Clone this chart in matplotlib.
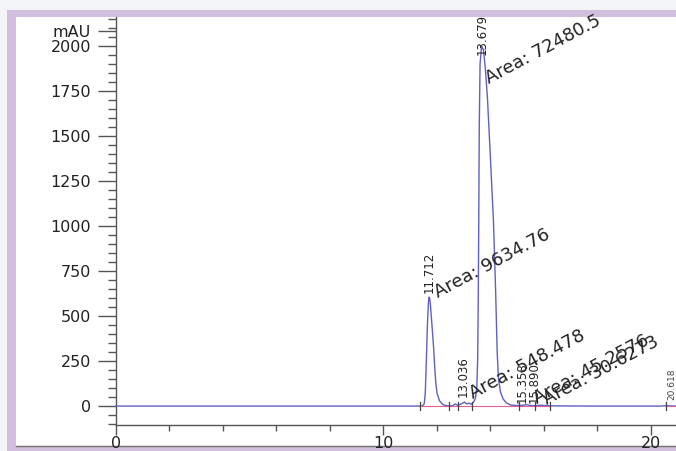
import matplotlib
matplotlib.use("Agg")
import matplotlib.pyplot as plt
from matplotlib.patches import Rectangle
from matplotlib.lines import Line2D
from matplotlib.ticker import MultipleLocator, FixedLocator

# ---------------- data ----------------
time_min = [0.0, 5.0, 11.0, 11.45, 11.53, 11.57, 11.61, 11.65, 11.69, 11.712, 11.74,
            11.77, 11.81, 11.85, 11.88, 11.93, 11.97, 12.01, 12.1, 12.2, 12.3, 12.45,
            12.6, 12.7, 12.8, 12.95, 13.036, 13.12, 13.2, 13.3, 13.38, 13.45, 13.5,
            13.53, 13.55, 13.57, 13.59, 13.62, 13.679, 13.75, 13.82, 13.9, 14.0, 14.12,
            14.2, 14.26, 14.31, 14.38, 14.48, 14.6, 14.76, 15.0, 15.2, 15.358, 15.5,
            15.7, 15.89, 16.1, 16.5, 18.0, 20.4, 20.56, 20.7, 20.95]
mau = [0, 0, 0, 0, 12, 72, 250, 450, 580, 605, 595,
       550, 470, 390, 328, 200, 120, 72, 30, 12, 4, 1,
       2, 12, 3, 15, 22, 12, 16, 10, 22, 45, 110,
       260, 550, 1000, 1550, 1900, 2000, 1975, 1870, 1700, 1400, 1030,
       650, 300, 150, 80, 40, 18, 6, 3, 4, 8, 3,
       2, 5, 2, 1, 0, 0, 2, 1, 0]

peak_times = ["11.712", "13.679", "13.036", "15.358", "15.890", "20.618"]
peak_areas = ["Area: 9634.76", "Area: 72480.5", "Area: 548.478",
              "Area: 45.2576", "Area: 30.6273"]
boundary_times = [11.39, 12.47, 12.78, 13.33, 15.09, 15.69, 16.25, 20.56]
y_major = [0, 250, 500, 750, 1000, 1250, 1500, 1750, 2000]
y_labels = ["0", "250", "500", "750", "1000", "1250", "1500", "1750", "2000"]
x_major = [0, 10, 20]

# ---------------- layout helpers ----------------
W, H = 676, 451
fig = plt.figure(figsize=(W / 100, H / 100), dpi=100, facecolor="#f3f5f8")

def fx(px):
    return px / W

def fy(py):
    return (H - py) / H

fig.patches.append(Rectangle((fx(7), fy(451)), 1 - fx(7), fy(10) - fy(451),
                             transform=fig.transFigure, facecolor="#d2bfdd",
                             edgecolor="none", zorder=-3))
fig.patches.append(Rectangle((fx(16), fy(446)), 1 - fx(16), fy(17) - fy(446),
                             transform=fig.transFigure, facecolor="white",
                             edgecolor="none", zorder=-2))
fig.lines.append(Line2D([fx(16), 1], [fy(446), fy(446)], transform=fig.transFigure,
                        color="#707070", lw=1.0, zorder=-1))

ax = fig.add_axes([fx(116), fy(425), fx(676) - fx(116), fy(17) - fy(425)])
ax.set_zorder(5)
ax.set_facecolor("none")
ax.set_xlim(0, 20.95)
ax.set_ylim(-105, 2160)

for s in ("top", "right"):
    ax.spines[s].set_visible(False)
for s in ("left", "bottom"):
    ax.spines[s].set_color("#555555")
    ax.spines[s].set_linewidth(1.0)

# trace
ax.plot(time_min, mau, color="#6060c2", lw=1.0, zorder=3, clip_on=False)
# baselines of integrated peaks
ax.plot([boundary_times[0], boundary_times[6]], [0, 0], color="#e0609a", lw=0.8, zorder=4)
ax.plot([boundary_times[7], 20.95], [0, 0], color="#e0609a", lw=0.8, zorder=4)
# peak start/end markers
for t in boundary_times:
    ax.plot([t, t], [-22, 22], color="#444444", lw=0.9, zorder=5)

# ticks
ax.yaxis.set_major_locator(FixedLocator(y_major + [2085]))
ax.set_yticklabels(y_labels + ["mAU"])
ax.yaxis.set_minor_locator(MultipleLocator(50))
ax.xaxis.set_major_locator(FixedLocator(x_major))
ax.xaxis.set_minor_locator(MultipleLocator(2))
ax.tick_params(axis="y", which="major", direction="out", length=13, width=1,
               color="#555555", pad=5, labelsize=11.5, labelcolor="#222222")
ax.tick_params(axis="y", which="minor", direction="out", length=6, width=1,
               color="#555555")
ax.tick_params(axis="x", which="major", direction="out", length=7, width=1,
               color="#555555", pad=1, labelsize=11.5, labelcolor="#222222")
ax.tick_params(axis="x", which="minor", direction="out", length=4, width=1,
               color="#555555")

# peak retention-time labels (vertical)
vert_pos = [(11.71, 626), (13.71, 1950), (13.0, 50), (15.2, 17), (15.65, 17)]
for lab, (x, y) in zip(peak_times[:5], vert_pos):
    ax.text(x, y, lab, rotation=90, ha="center", va="bottom", fontsize=8.5,
            color="#222222", zorder=6)
# last label sits at the right edge
ax.text(20.62, 33, peak_times[5], rotation=90, ha="left", va="bottom", fontsize=6.5,
        color="#444444", zorder=6)

# area labels (diagonal)
area_pos = [(12.05, 600), (13.95, 1790), (13.36, 39), (15.75, 11), (16.12, 5)]
for lab, (x, y) in zip(peak_areas, area_pos):
    ax.text(x, y, lab, rotation=28, rotation_mode="anchor", ha="left", va="baseline",
            fontsize=13, color="#222222", zorder=6)

fig.savefig("out.png", dpi=100, facecolor=fig.get_facecolor())
